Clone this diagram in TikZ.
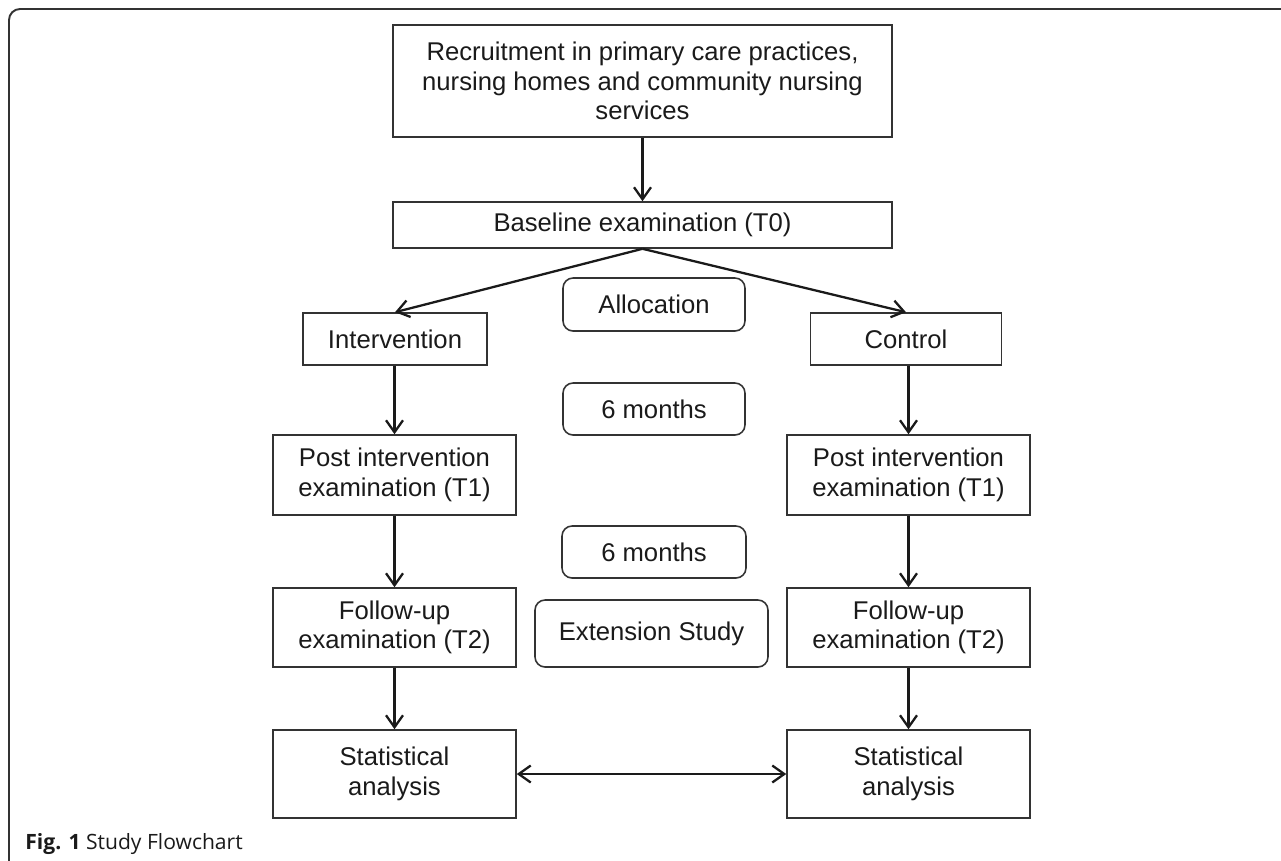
\documentclass[tikz,border=0pt]{standalone}
\usepackage{fontspec}
\setmainfont{Liberation Sans}
\newfontfamily\capfont{Open Sans}
\usetikzlibrary{arrows.meta}

\definecolor{edge}{HTML}{333333}
\definecolor{ink}{HTML}{1A1A1A}

\begin{document}
\begin{tikzpicture}[x=0.02cm, y=-0.02cm,
	>={Straight Barb[length=2.4mm,width=3.4mm,line width=1.3pt]},
	box/.style={draw=edge, line width=0.9pt, align=center, text=ink,
		font=\fontsize{14.6}{16.8}\selectfont, inner sep=0pt},
	stage/.style={box, rounded corners=0.2cm},
	flow/.style={draw=ink, line width=1.3pt, ->}]

	% ---- page and frame

	\useasboundingbox (0,0) rectangle (1281,860);
	\draw[edge, line width=1.1pt, rounded corners=0.22cm] (1281,9) -- (9,9) -- (9,862);

	% ---- coordinates

	\coordinate (C1) at (642.5,81);
	\coordinate (C2) at (642.5,225);
	\coordinate (L1) at (395,339);
	\coordinate (R1) at (906,339);
	\coordinate (L2) at (394.5,475);
	\coordinate (R2) at (908.5,475);
	\coordinate (L3) at (394.5,627.5);
	\coordinate (R3) at (908.5,627.5);
	\coordinate (L4) at (394.5,774);
	\coordinate (R4) at (908.5,774);

	% ---- boxes

	\node[box, minimum width=9.98cm, minimum height=2.24cm] (recruit) at (C1)
		{Recruitment in primary care practices,\\nursing homes and community nursing\\services};
	\node[box, minimum width=9.98cm, minimum height=0.92cm] (baseline) at (C2)
		{Baseline examination (T0)};

	\node[box, minimum width=3.68cm, minimum height=1.04cm] (interv) at (L1) {Intervention};
	\node[box, minimum width=3.82cm, minimum height=1.04cm] (control) at (R1) {Control};

	\node[box, minimum width=4.86cm, minimum height=1.6cm] (postL) at (L2)
		{Post intervention\\examination (T1)};
	\node[box, minimum width=4.86cm, minimum height=1.6cm] (postR) at (R2)
		{Post intervention\\examination (T1)};

	\node[box, minimum width=4.86cm, minimum height=1.58cm] (followL) at (L3)
		{Follow-up\\examination (T2)};
	\node[box, minimum width=4.86cm, minimum height=1.58cm] (followR) at (R3)
		{Follow-up\\examination (T2)};

	\node[box, minimum width=4.86cm, minimum height=1.76cm] (statL) at (L4)
		{Statistical\\analysis};
	\node[box, minimum width=4.86cm, minimum height=1.76cm] (statR) at (R4)
		{Statistical\\analysis};

	% ---- stages in the middle

	\node[stage, minimum width=3.64cm, minimum height=1.06cm] (alloc) at (654,304.5) {Allocation};
	\node[stage, minimum width=3.64cm, minimum height=1.04cm] (monthsA) at (654,409) {6 months};
	\node[stage, minimum width=3.68cm, minimum height=1.04cm] (monthsB) at (654,552) {6 months};
	\node[stage, minimum width=4.66cm, minimum height=1.34cm] (ext) at (651.5,633.5) {Extension Study};

	% ---- arrows

	\draw[flow] (recruit) -- (baseline);
	\draw[flow] (baseline.south) -- (interv.north);
	\draw[flow] (baseline.south) -- (control.north);

	\draw[flow] (interv.south -| postL.north) -- (postL.north);
	\draw[flow] (control.south -| postR.north) -- (postR.north);

	\draw[flow] (postL) -- (followL);
	\draw[flow] (postR) -- (followR);
	\draw[flow] (followL) -- (statL);
	\draw[flow] (followR) -- (statR);

	\draw[flow, <->] (statL) -- (statR);

	% ---- caption

	\node[anchor=base west, inner sep=0pt, text=ink, font=\capfont\fontsize{12}{14}\selectfont] (caption) at (25,849)
		{\textbf{Fig. 1} Study Flowchart};

\end{tikzpicture}
\end{document}
